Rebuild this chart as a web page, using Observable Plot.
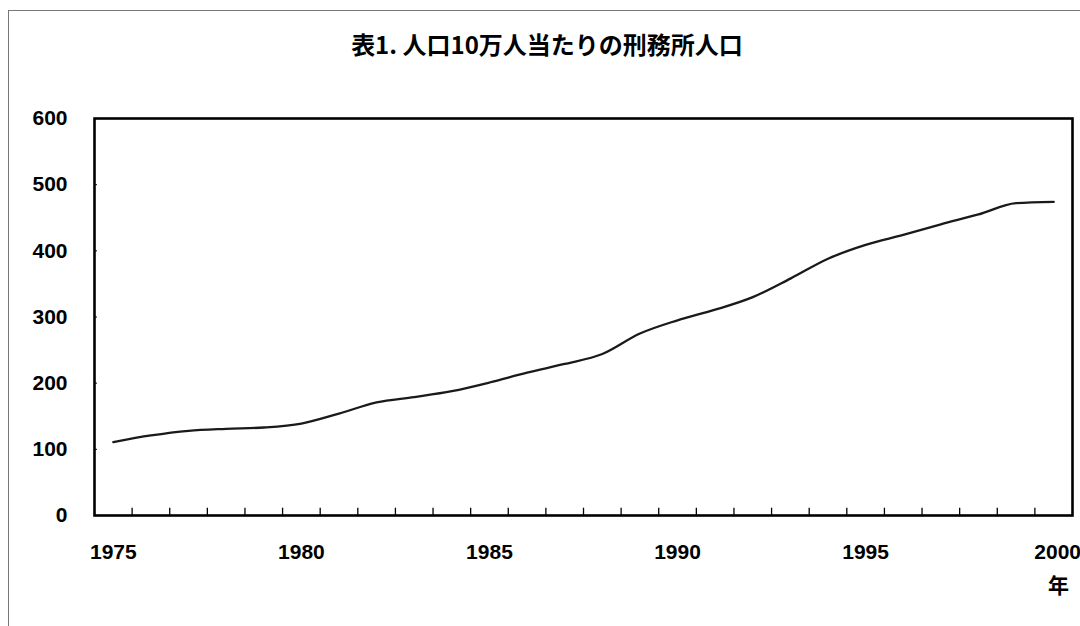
<!DOCTYPE html>
<html><head><meta charset="utf-8">
<script src="https://cdn.jsdelivr.net/npm/d3@7"></script>
<script src="https://cdn.jsdelivr.net/npm/@observablehq/plot@0.6"></script>
<style>
body{margin:0;background:#fff;}
#wrap{position:relative;width:1080px;height:626px;overflow:hidden;background:#fff;}
#chart{position:absolute;left:0;top:0;}
#border{position:absolute;left:8px;top:10px;right:-4px;bottom:-4px;border-top:1px solid #777;border-left:1px solid #777;pointer-events:none;}
#title{position:absolute;left:0;width:1094px;top:26px;text-align:center;font-weight:bold;font-size:24px;font-family:"Noto Sans CJK JP",sans-serif;color:#000;}
#unit{position:absolute;left:1048px;top:569px;font-weight:bold;font-size:21px;font-family:"Noto Sans CJK JP",sans-serif;color:#000;}
</style>
</head><body>
<div id="wrap">
  <div id="chart"></div>
  <div id="border"></div>
  <div id="title">表1. 人口10万人当たりの刑務所人口</div>
  <div id="unit">年</div>
</div>
<script>
const title = "表1. 人口10万人当たりの刑務所人口";
const unitLabel = "年";
const years = [1975,1976,1977,1978,1979,1980,1981,1982,1983,1984,1985,1986,1987,1988,1989,1990,1991,1992,1993,1994,1995,1996,1997,1998,1999,2000];
const rates = [111,121,128,131,133,139,154,171,179,188,201,216,229,244,275,295,311,330,358,388,409,424,440,455,472,474];
const yTicks = [0,100,200,300,400,500,600];
const xLabels = [1975,1980,1985,1990,1995,2000];

const data = years.map((y, i) => ({year: y, rate: rates[i]}));
const boundaries = years.slice(1).map(y => y - 0.5);

const chart = Plot.plot({
  width: 1080,
  height: 626,
  marginLeft: 94,
  marginRight: 8,
  marginTop: 118,
  marginBottom: 111,
  x: {type: "linear", domain: [years[0] - 0.5, years[years.length - 1] + 0.5], label: null},
  y: {domain: [0, 600], label: null},
  style: {fontFamily: "'Liberation Sans', 'Noto Sans CJK JP', sans-serif", fontSize: "21px", fontWeight: "bold", color: "#000", background: "white", overflow: "visible"},
  marks: [
    Plot.axisY(yTicks, {tickSize: 0, tickPadding: 27, tickFormat: d => String(d), label: null, fontSize: 21}),
    Plot.axisX(xLabels.slice(0, -1), {tickSize: 0, tickPadding: 29, tickFormat: d => String(d), label: null, fontSize: 21}),
    Plot.axisX(xLabels.slice(-1), {tickSize: 0, tickPadding: 29, dx: 4, tickFormat: d => String(d), label: null, fontSize: 21}),
    Plot.ruleX(boundaries, {y1: 0, y2: 11, stroke: "#000", strokeWidth: 1.3}),
    Plot.ruleY(yTicks, {x1: years[0] - 0.5, x2: years[0] - 0.42, stroke: "#000", strokeWidth: 1}),
    Plot.line(data, {x: "year", y: "rate", curve: "monotone-x", stroke: "#1a1a1a", strokeWidth: 2.3, strokeLinejoin: "round"}),
    Plot.frame({stroke: "#000", strokeWidth: 2.6})
  ]
});
document.getElementById("chart").appendChild(chart);
</script>
</body></html>
